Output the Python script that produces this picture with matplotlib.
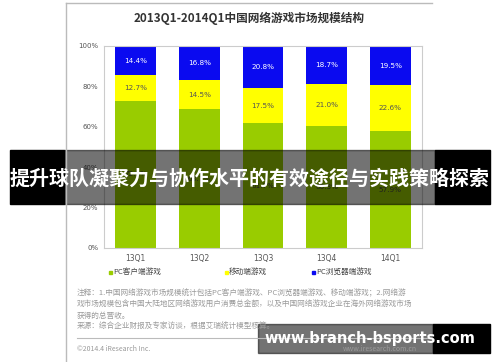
import matplotlib
matplotlib.use("Agg")
import matplotlib.pyplot as plt
from matplotlib.patches import Rectangle
from matplotlib.lines import Line2D

plt.rcParams['font.family'] = ['Noto Sans CJK SC', 'DejaVu Sans']

categories = ["13Q1", "13Q2", "13Q3", "13Q4", "14Q1"]
pc_client = [72.9, 68.7, 61.7, 60.3, 57.9]
mobile = [12.7, 14.5, 17.5, 21.0, 22.6]
browser = [14.4, 16.8, 20.8, 18.7, 19.5]
series_names = ["PC客户端游戏", "移动端游戏", "PC浏览器端游戏"]
yticks = [0, 20, 40, 60, 80, 100]
title = "2013Q1-2014Q1中国网络游戏市场规模结构"
banner = "提升球队凝聚力与协作水平的有效途径与实践策略探索"
notes = [
    "注释：1.中国网络游戏市场规模统计包括PC客户端游戏、PC浏览器端游戏、移动端游戏；2.网络游",
    "戏市场规模包含中国大陆地区网络游戏用户消费总金额，以及中国网络游戏企业在海外网络游戏市场",
    "获得的总营收。",
    "来源：综合企业财报及专家访谈，根据艾瑞统计模型核算。",
]

W, H = 500, 362
fig = plt.figure(figsize=(5, 3.62), dpi=100)
fig.patch.set_facecolor("white")

def fx(x): return x / W
def fy(y): return 1 - y / H

# frame lines of the original picture
fig.add_artist(Line2D([fx(66), fx(432)], [fy(3), fy(3)], color="#bbbbbb", lw=1.0))
fig.add_artist(Line2D([fx(66), fx(66)], [fy(3), fy(362)], color="#bbbbbb", lw=1.0))

ax = fig.add_axes([fx(104), fy(248), fx(422) - fx(104), fy(46) - fy(248)])
colors = ["#99CC00", "#FFFF00", "#0A0AF0"]
x = list(range(len(categories)))
w = 0.64
bottoms = [0] * len(categories)
for vals, col, name, tcol in zip([pc_client, mobile, browser], colors, series_names,
                                 ["#444444", "#555555", "white"]):
    bars = ax.bar(x, vals, w, bottom=bottoms, color=col, label=name, zorder=2)
    for xi, b, v in zip(x, bottoms, vals):
        ax.text(xi, b + v / 2, f"{v:.1f}%", ha="center", va="center",
                fontsize=5.2, color=tcol, family="DejaVu Sans", zorder=3)
    bottoms = [b + v for b, v in zip(bottoms, vals)]

ax.set_xlim(-0.5, 4.5)
ax.set_ylim(0, 100)
ax.set_yticks(yticks)
ax.set_yticklabels([f"{t}%" for t in yticks], fontsize=5, color="#555555", family="DejaVu Sans")
ax.set_xticks(x)
ax.set_xticklabels(categories, fontsize=5.5, color="#555555", family="DejaVu Sans")
ax.tick_params(length=0, pad=4)
for s in ax.spines.values():
    s.set_color("#cccccc")
    s.set_linewidth(0.8)

fig.text(fx(249), fy(18), title, ha="center", va="center", fontsize=8.4, fontweight="bold", color="#333333")

# legend
leg_x = [110, 226, 313]
for lx, col, name in zip(leg_x, colors, series_names):
    fig.add_artist(Rectangle((fx(lx - 1.5), fy(273.5)), fx(3), fy(270.5) - fy(273.5), color=col))
    fig.text(fx(lx + 3), fy(272), name, ha="left", va="center", fontsize=5.5, color="#444444")

# notes
for i, line in enumerate(notes):
    fig.text(fx(77), fy(293 + i * 11.3), line, ha="left", va="center", fontsize=5.5, color="#9a9a9a")
fig.add_artist(Line2D([fx(77), fx(430)], [fy(338), fy(338)], color="#bbbbbb", lw=0.8))
fig.text(fx(77), fy(349), "©2014.4 iResearch Inc.", ha="left", va="center", fontsize=5, color="#9a9a9a")
fig.text(fx(343), fy(349), "www.iresearch.com.cn", ha="left", va="center", fontsize=5, color="#9a9a9a")

# banner
fig.add_artist(Rectangle((fx(10), fy(204)), fx(54), fy(150) - fy(204), color="black"))
fig.add_artist(Rectangle((fx(435), fy(204)), fx(55), fy(150) - fy(204), color="black"))
fig.add_artist(Rectangle((fx(64), fy(204)), fx(371), fy(150) - fy(204), color="black", alpha=0.55))
fig.text(fx(250), fy(178), banner, ha="center", va="center", fontsize=14.4, fontweight="bold", color="white")

# watermark
fig.add_artist(Rectangle((fx(258), fy(353)), fx(175), fy(324) - fy(353), color="black", alpha=0.55))
fig.add_artist(Rectangle((fx(433), fy(353)), fx(57), fy(324) - fy(353), color="black"))
fig.text(fx(370), fy(338), "www.branch-bsports.com", ha="center", va="center", fontsize=10.5,
         fontweight="bold", color="white", family="DejaVu Sans")

fig.savefig("out.png", dpi=100)
